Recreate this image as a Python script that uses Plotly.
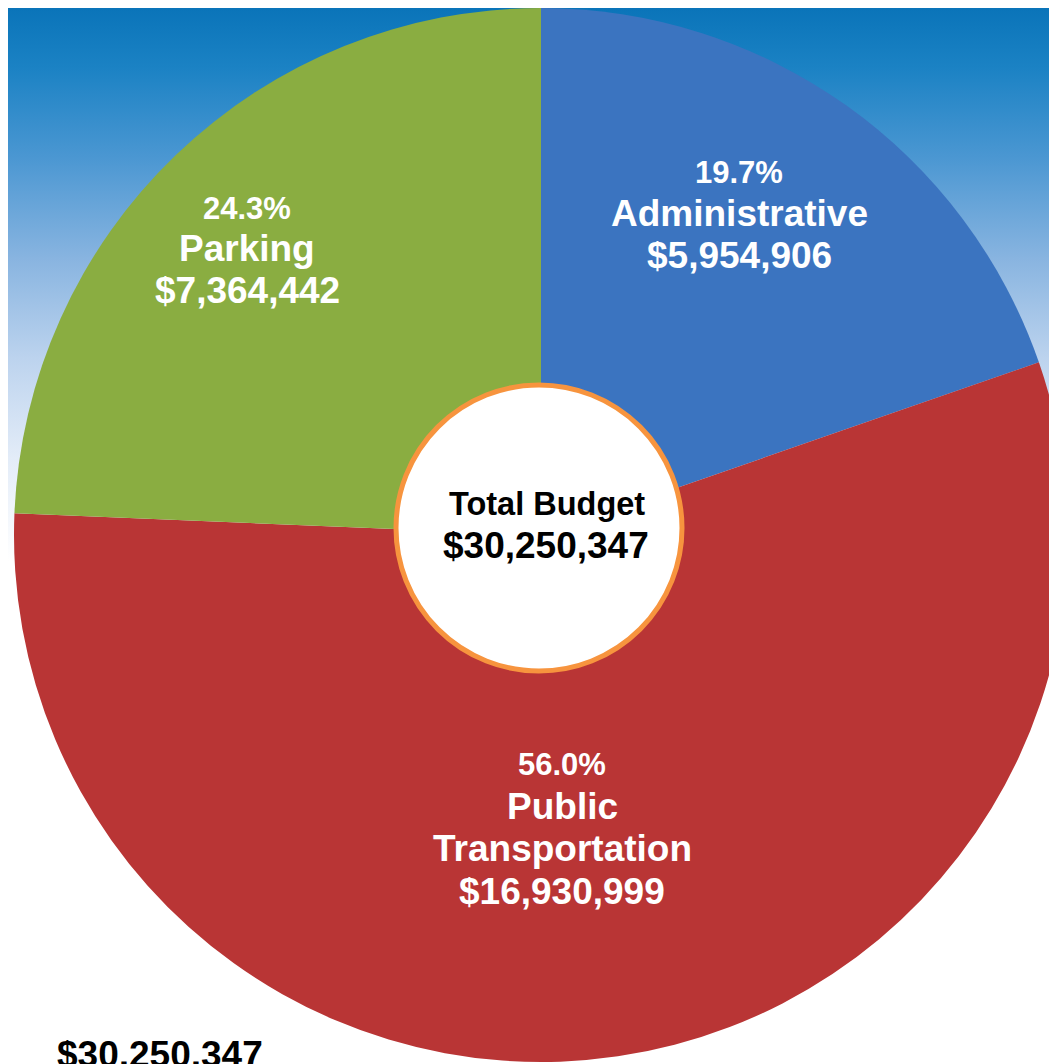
import plotly.graph_objects as go

# ---- data ----
categories = ["Administrative", "Public Transportation", "Parking"]
label_lines = [["Administrative"], ["Public", "Transportation"], ["Parking"]]
values = [5954906, 16930999, 7364442]
slice_colors = ["#3b74c0", "#b93535", "#8aad41"]

total = sum(values)
percents = [f"{v / total * 100:.1f}%" for v in values]
dollars = [f"${v:,}" for v in values]

W, H = 1062, 1064
OFF = 8  # page body margin offset (screen px = figure px + OFF)
FONT = "Liberation Sans, Arial, sans-serif"

fig = go.Figure()

# gradient background (blue at top fading to white)
fig.add_trace(go.Scatter(
    x=[0, 1, 1, 0, 0], y=[0, 0, 1, 1, 0], mode="none", fill="toself",
    fillgradient=dict(type="vertical", colorscale=[
        [0.0, "#ffffff"], [0.48, "#ffffff"], [0.577, "#e3ecf8"],
        [0.671, "#bcd3ee"], [0.765, "#88b4e0"], [0.859, "#4b97d2"],
        [0.944, "#1b82c4"], [1.0, "#0a74b9"]]),
    hoverinfo="skip", showlegend=False))

# pie: screen centre (541,535) px, radius 527 px
fig.add_trace(go.Pie(
    labels=categories, values=values, sort=False, direction="clockwise",
    rotation=0, textinfo="none", hoverinfo="label+value+percent",
    marker=dict(colors=slice_colors, line=dict(width=0)),
    domain=dict(x=[6 / W, 1060 / W], y=[1 - 1054 / H, 1.0]),
    showlegend=False))

def px(xp, yp):
    return (xp - OFF) / W, 1 - (yp - OFF) / H

annotations = []
def add_text(text, xp, yp, size, color):
    x, y = px(xp, yp)
    annotations.append(dict(
        text=text, x=x, y=y, xref="paper", yref="paper", showarrow=False,
        xanchor="center", yanchor="middle",
        font=dict(family=FONT, size=size, color=color, weight="bold")))

# slice label positions (screen px): x centre, y of each line
label_pos = [
    (739, [172, 213, 255]),
    (562, [764, 806, 848, 891]),
    (247, [208, 248, 290]),
]
for i, (xc, ys) in enumerate(label_pos):
    lines = [percents[i]] + label_lines[i] + [dollars[i]]
    for j, (t, yy) in enumerate(zip(lines, ys)):
        add_text(t, xc, yy, 31 if j == 0 else 37, "white")

# centre circle (screen px)
cx, cy, r = 539, 528, 143
fig.add_shape(type="circle", xref="paper", yref="paper",
              x0=(cx - r - OFF) / W, x1=(cx + r - OFF) / W,
              y0=1 - (cy + r - OFF) / H, y1=1 - (cy - r - OFF) / H,
              fillcolor="white", line=dict(color="#f7943e", width=5), layer="above")

add_text("Total Budget", 547, 504, 32.5, "black")
add_text(f"${total:,}", 546, 545, 37, "black")

# bottom-left total (cut off by the bottom edge)
add_text(f"${total:,}", 160, 1054, 37, "black")

fig.update_layout(
    width=W, height=H, margin=dict(l=0, r=0, t=0, b=0),
    paper_bgcolor="white", plot_bgcolor="white",
    xaxis=dict(range=[0, 1], visible=False, fixedrange=True),
    yaxis=dict(range=[0, 1], visible=False, fixedrange=True),
    annotations=annotations, showlegend=False)

fig.write_html("out.html")
